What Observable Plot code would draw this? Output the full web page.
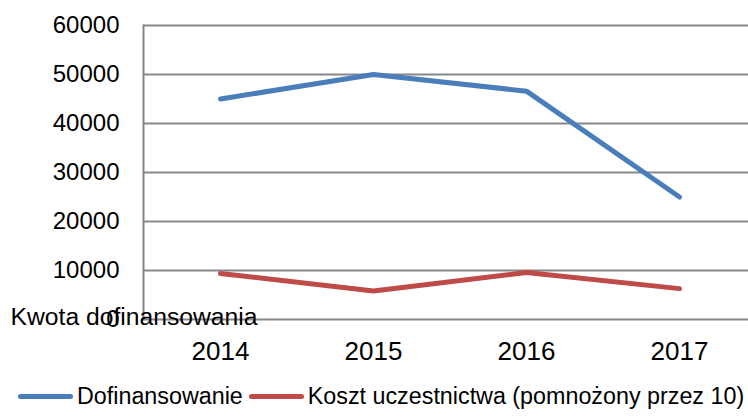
<!DOCTYPE html>
<html>
<head>
<meta charset="utf-8">
<script src="https://cdn.jsdelivr.net/npm/d3@7"></script>
<script src="https://cdn.jsdelivr.net/npm/@observablehq/plot@0.6"></script>
<style>
  html, body { margin: 0; padding: 0; background: #fff; }
  body { width: 748px; height: 417px; overflow: hidden; font-family: "Liberation Sans", Arial, sans-serif; }
  #legend { display: flex; align-items: center; height: 42px; padding-left: 18px; font-size: 23.3px; color: #000; white-space: nowrap; width: 760px; }
  .sw { display: inline-block; width: 55px; height: 5px; border-radius: 3px; flex: none; }
  .item { display: flex; align-items: center; flex: none; white-space: nowrap; }
</style>
</head>
<body>
<div id="chart"></div>
<div id="legend"></div>
<script>
const years = ["2014", "2015", "2016", "2017"];
const dofinansowanie = [45000, 50000, 46600, 25000];
const koszt = [9400, 5800, 9600, 6300];
const yTicks = [0, 10000, 20000, 30000, 40000, 50000, 60000];
const seriesNames = ["Dofinansowanie", "Koszt uczestnictwa (pomnożony przez 10)"];
const seriesColors = ["#4a7ebb", "#be4b48"];
const yLabel = "Kwota dofinansowania";

const data = [];
years.forEach((y, i) => {
  data.push({year: y, value: dofinansowanie[i], series: seriesNames[0]});
  data.push({year: y, value: koszt[i], series: seriesNames[1]});
});

const chart = Plot.plot({
  width: 748,
  height: 375,
  marginTop: 25,
  marginBottom: 56,
  marginLeft: 143,
  marginRight: 0,
  style: {background: "#fff", color: "#000", fontFamily: "Liberation Sans, Arial, sans-serif"},
  x: {type: "point", domain: years, range: [219.5, 680], padding: 0},
  y: {domain: [0, 60000]},
  color: {domain: seriesNames, range: seriesColors},
  marks: [
    Plot.ruleY(yTicks, {stroke: "#878787", strokeWidth: 2}),
    Plot.frame({anchor: "left", stroke: "#878787", strokeWidth: 2}),
    Plot.axisY({ticks: yTicks, tickSize: 0, tickPadding: 24, fontSize: 24, tickFormat: d => String(d), label: null, style: "letter-spacing:1.4px"}),
    Plot.axisX({tickSize: 0, tickPadding: 22, fontSize: 26, label: null, style: "letter-spacing:-1px"}),
    Plot.line(data, {x: "year", y: "value", z: "series", stroke: "series", strokeWidth: 5, strokeLinecap: "round", strokeLinejoin: "round"}),
    Plot.text([yLabel], {frameAnchor: "bottom-left", text: d => d, textAnchor: "start", dx: -133, dy: 5, fontSize: 24.7, fill: "#000"})
  ]
});
document.getElementById("chart").appendChild(chart);

const legend = document.getElementById("legend");
seriesNames.forEach((name, i) => {
  const item = document.createElement("span");
  item.className = "item";
  item.style.marginRight = i === 0 ? "6px" : "0";
  const sw = document.createElement("span");
  sw.className = "sw";
  sw.style.background = seriesColors[i];
  sw.style.marginRight = "4px";
  const t = document.createElement("span");
  t.textContent = name;
  item.appendChild(sw);
  item.appendChild(t);
  legend.appendChild(item);
});
</script>
</body>
</html>
